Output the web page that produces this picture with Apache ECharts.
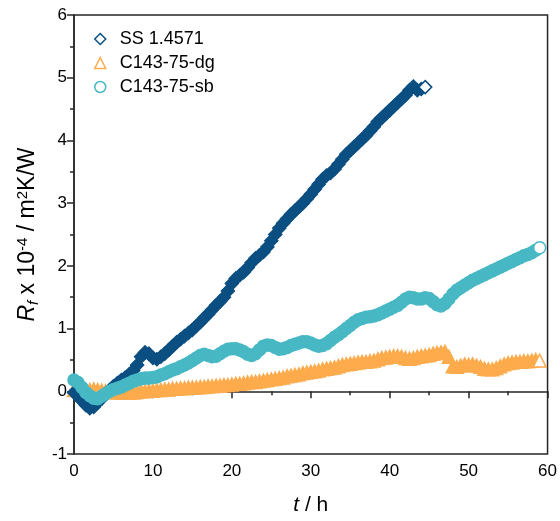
<!DOCTYPE html>
<html>
<head>
<meta charset="utf-8">
<script src="https://cdn.jsdelivr.net/npm/echarts@6/dist/echarts.min.js"></script>
<style>
    html, body { margin: 0; padding: 0; background: #fff; }
    #chart { width: 560px; height: 521px; }
</style>
</head>
<body>
<div id="chart"></div>
<script>
    // sampling step of the readings (h)
    const step = 0.5

    // SS 1.4571, t = 0 ... 44.5 h
    const ssValues = [
        -0.02, -0.08, -0.15, -0.22, -0.27, -0.25, -0.18, -0.12, -0.05, 0.02,
        0.08, 0.13, 0.18, 0.22, 0.27, 0.33, 0.42, 0.55, 0.62, 0.60,
        0.53, 0.51, 0.55, 0.60, 0.66, 0.72, 0.78, 0.83, 0.88, 0.93,
        0.98, 1.04, 1.10, 1.17, 1.23, 1.30, 1.37, 1.43, 1.50, 1.60,
        1.72, 1.80, 1.85, 1.90, 1.97, 2.05, 2.12, 2.17, 2.22, 2.30,
        2.40, 2.50, 2.60, 2.68, 2.75, 2.82, 2.88, 2.94, 3.00, 3.07,
        3.14, 3.22, 3.30, 3.38, 3.44, 3.48, 3.54, 3.62, 3.70, 3.78,
        3.84, 3.90, 3.96, 4.02, 4.08, 4.15, 4.22, 4.30, 4.36, 4.42,
        4.48, 4.54, 4.60, 4.66, 4.72, 4.80, 4.86, 4.80, 4.82, 4.85
    ]

    // C143-75-dg, t = 0 ... 59 h
    const dgValues = [
        0.02, 0.03, 0.02, 0.01, 0.02, 0.03, 0.02, 0.01, 0.00, -0.01,
        -0.01, -0.02, -0.02, -0.01, -0.02, -0.02, -0.01, 0.00, 0.00, 0.01,
        0.01, 0.02, 0.02, 0.03, 0.03, 0.04, 0.04, 0.05, 0.05, 0.06,
        0.06, 0.06, 0.07, 0.07, 0.08, 0.08, 0.09, 0.09, 0.10, 0.10,
        0.11, 0.12, 0.12, 0.13, 0.14, 0.15, 0.15, 0.16, 0.17, 0.18,
        0.19, 0.20, 0.21, 0.22, 0.24, 0.25, 0.26, 0.27, 0.29, 0.30,
        0.31, 0.32, 0.33, 0.35, 0.36, 0.37, 0.38, 0.40, 0.42, 0.43,
        0.44, 0.45, 0.46, 0.47, 0.47, 0.48, 0.49, 0.51, 0.53, 0.54,
        0.55, 0.56, 0.56, 0.55, 0.53, 0.52, 0.53, 0.55, 0.56, 0.57,
        0.58, 0.60, 0.61, 0.62, 0.63, 0.55, 0.40, 0.39, 0.41, 0.43,
        0.42, 0.43, 0.41, 0.39, 0.36, 0.35, 0.35, 0.37, 0.40, 0.43,
        0.45, 0.46, 0.47, 0.47, 0.48, 0.48, 0.49, 0.50, 0.49
    ]

    // C143-75-sb, t = 0 ... 59 h
    const sbValues = [
        0.18, 0.14, 0.06, -0.02, -0.07, -0.11, -0.12, -0.08, -0.04, 0.00,
        0.03, 0.05, 0.07, 0.10, 0.13, 0.16, 0.18, 0.20, 0.21, 0.21,
        0.22, 0.23, 0.26, 0.28, 0.31, 0.34, 0.36, 0.39, 0.42, 0.45,
        0.49, 0.53, 0.57, 0.59, 0.57, 0.55, 0.56, 0.60, 0.64, 0.67,
        0.68, 0.68, 0.66, 0.63, 0.59, 0.57, 0.60, 0.66, 0.72, 0.74,
        0.73, 0.70, 0.67, 0.68, 0.70, 0.73, 0.75, 0.77, 0.79, 0.79,
        0.77, 0.74, 0.72, 0.73, 0.76, 0.81, 0.86, 0.90, 0.95, 1.00,
        1.05, 1.10, 1.14, 1.16, 1.18, 1.19, 1.20, 1.22, 1.25, 1.28,
        1.31, 1.34, 1.37, 1.42, 1.47, 1.50, 1.49, 1.47, 1.47, 1.49,
        1.48, 1.43, 1.38, 1.36, 1.40, 1.47, 1.55, 1.61, 1.65, 1.69,
        1.73, 1.77, 1.80, 1.83, 1.86, 1.89, 1.92, 1.95, 1.98, 2.01,
        2.04, 2.07, 2.10, 2.13, 2.16, 2.18, 2.21, 2.25, 2.29
    ]

    const xTicks = [0, 10, 20, 30, 40, 50, 60]
    const yTicks = [-1, 0, 1, 2, 3, 4, 5, 6]

    const seriesNames = ['SS 1.4571', 'C143-75-dg', 'C143-75-sb']
    const seriesColors = ['#0b4f82', '#fdab4c', '#47b8c4']
    const seriesSymbols = ['diamond', 'triangle', 'circle']

    const axisColor = '#262626'
    const font = 'Liberation Sans, Arial, sans-serif'

    // pair readings with their time, last marker is hollow (white fill)
    function toPoints(values, color) {
        return values.map((v, i) => {
            let p = { value: [i * step, v] }
            if (i === values.length - 1) {
                p.itemStyle = { color: '#fff', borderColor: color, borderWidth: 1.5 }
            }
            return p
        })
    }

    function makeSeries(idx, values, size) {
        return {
            name: seriesNames[idx],
            type: 'scatter',
            symbol: seriesSymbols[idx],
            symbolSize: size,
            itemStyle: {
                color: seriesColors[idx],
                borderColor: seriesColors[idx],
                borderWidth: 1.5,
                opacity: 1
            },
            emphasis: { disabled: true },
            data: toPoints(values, seriesColors[idx])
        }
    }

    const myChart = echarts.init(document.getElementById('chart'), null, { renderer: 'canvas' })

    const options = {
        animation: false,
        textStyle: { fontFamily: font },
        grid: {
            left: 74,
            right: 12,
            top: 15,
            bottom: 66,
            show: true,
            borderColor: axisColor,
            borderWidth: 1.5,
            backgroundColor: 'transparent'
        },
        legend: {
            orient: 'vertical',
            left: 89,
            top: 25,
            itemWidth: 11,
            itemHeight: 11,
            itemGap: 6,
            textStyle: {
                fontSize: 18,
                color: '#000',
                fontFamily: font,
                padding: [0, 0, 0, 9]
            },
            data: seriesNames.map((n, i) => ({
                name: n,
                icon: seriesSymbols[i],
                itemStyle: { color: '#fff', borderColor: seriesColors[i], borderWidth: 1.5 }
            }))
        },
        xAxis: {
            type: 'value',
            min: xTicks[0],
            max: xTicks[xTicks.length - 1],
            interval: 10,
            name: '{i|t} / h',
            nameLocation: 'middle',
            nameGap: 41,
            nameTextStyle: {
                fontSize: 21,
                color: '#000',
                rich: {
                    i: { fontSize: 21, fontStyle: 'italic', color: '#000' }
                }
            },
            axisLine: { lineStyle: { color: axisColor, width: 1.5 } },
            axisTick: { length: 7, lineStyle: { color: axisColor, width: 1.5 } },
            minorTick: { show: true, splitNumber: 2, length: 4, lineStyle: { color: axisColor, width: 1.5 } },
            axisLabel: { fontSize: 17, color: '#000', margin: 9 },
            splitLine: { show: false }
        },
        yAxis: {
            type: 'value',
            min: yTicks[0],
            max: yTicks[yTicks.length - 1],
            interval: 1,
            name: '{i|R}{sub|f} x 10{sup|-4} / m{sup|2}K/W',
            nameLocation: 'middle',
            nameRotate: 90,
            nameGap: 33,
            nameTextStyle: {
                fontSize: 23,
                color: '#000',
                lineHeight: 26,
                rich: {
                    i: { fontSize: 23, fontStyle: 'italic', color: '#000', lineHeight: 26 },
                    sub: { fontSize: 15, fontStyle: 'italic', color: '#000', verticalAlign: 'bottom', lineHeight: 26 },
                    sup: { fontSize: 15, color: '#000', verticalAlign: 'top', lineHeight: 26 }
                }
            },
            axisLine: { lineStyle: { color: axisColor, width: 1.5 } },
            axisTick: { length: 7, lineStyle: { color: axisColor, width: 1.5 } },
            minorTick: { show: true, splitNumber: 2, length: 4, lineStyle: { color: axisColor, width: 1.5 } },
            axisLabel: { fontSize: 17, color: '#000', margin: 7 },
            splitLine: { show: false }
        },
        series: [
            makeSeries(1, dgValues, 13),
            makeSeries(0, ssValues, 13),
            makeSeries(2, sbValues, 12)
        ]
    }

    myChart.setOption(options)
</script>
</body>
</html>
